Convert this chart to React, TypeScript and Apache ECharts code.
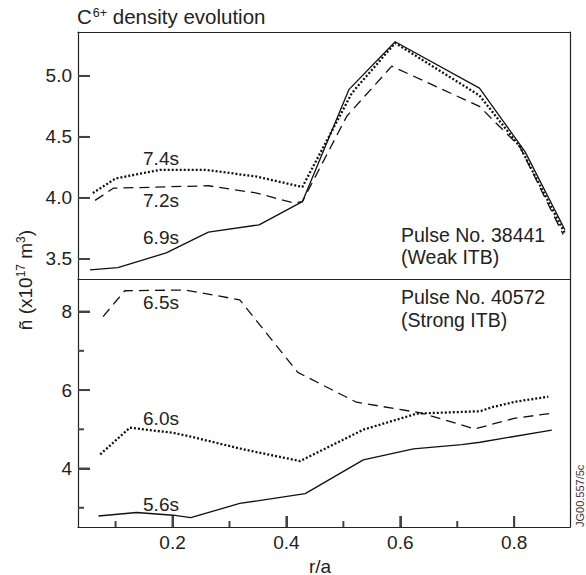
import React, { useEffect, useRef } from "react";
import * as echarts from "echarts";

// Top panel: Pulse No. 38441 (Weak ITB)
const t69X = [0.055, 0.104, 0.189, 0.263, 0.352, 0.428, 0.51, 0.591, 0.739, 0.819, 0.889];
const t69Y = [3.41, 3.43, 3.55, 3.72, 3.78, 3.97, 4.89, 5.28, 4.9, 4.38, 3.74];
const t72X = [0.064, 0.096, 0.263, 0.348, 0.412, 0.428, 0.506, 0.585, 0.739, 0.81, 0.886];
const t72Y = [3.98, 4.08, 4.1, 4.04, 3.96, 3.97, 4.67, 5.08, 4.75, 4.42, 3.7];
const t74X = [0.06, 0.1, 0.178, 0.26, 0.348, 0.428, 0.515, 0.591, 0.739, 0.81, 0.889];
const t74Y = [4.04, 4.16, 4.23, 4.23, 4.175, 4.09, 4.86, 5.27, 4.84, 4.42, 3.71];

// Bottom panel: Pulse No. 40572 (Strong ITB)
const b65X = [0.078, 0.116, 0.222, 0.318, 0.42, 0.523, 0.635, 0.731, 0.8, 0.862];
const b65Y = [7.87, 8.53, 8.55, 8.3, 6.45, 5.69, 5.42, 5.01, 5.28, 5.4];
const b60X = [0.073, 0.125, 0.201, 0.23, 0.324, 0.424, 0.535, 0.629, 0.74, 0.763, 0.805, 0.86];
const b60Y = [4.36, 5.04, 4.91, 4.82, 4.49, 4.19, 4.99, 5.4, 5.46, 5.57, 5.71, 5.83];
const b56X = [0.07, 0.137, 0.201, 0.232, 0.318, 0.433, 0.535, 0.623, 0.708, 0.74, 0.866];
const b56Y = [2.79, 2.88, 2.81, 2.75, 3.11, 3.36, 4.22, 4.5, 4.61, 4.67, 4.98];

const topTicks = [3.5, 4.0, 4.5, 5.0];
const botTicks = [4, 6, 8];
const botMinor = [3, 5, 7];
const xTicks = [0.2, 0.4, 0.6, 0.8];
const xMinor = [0.1, 0.3, 0.5, 0.7];

const X_MIN = 0.034;
const X_MAX = 0.898;
const T_MIN = 3.336;
const T_MAX = 5.36;
const B_MIN = 2.51;
const B_MAX = 8.83;

const pair = (xs: number[], ys: number[]) => xs.map((x, i) => [x, ys[i]]);

const FONT = "Liberation Sans, Arial, sans-serif";
const AX = "#444";
const LINE = "#111";

export default function App() {
  const ref = useRef<HTMLDivElement>(null);
  useEffect(() => {
    const chart = echarts.init(ref.current!, undefined, { renderer: "svg" });
    const solid = { color: LINE, width: 1.3, type: "solid" };
    const dashed = { color: LINE, width: 1.3, type: [10, 6] };
    const dotted = { color: LINE, width: 2.3, type: [2, 2] };
    const mk = (name: string, xi: number, yi: number, data: number[][], ls: any) => ({
      name,
      type: "line",
      xAxisIndex: xi,
      yAxisIndex: yi,
      data,
      symbol: "none",
      lineStyle: ls,
      silent: true,
    });
    const lbl = (text: string, x: number, y: number) => ({
      type: "text",
      x,
      y,
      style: { text, fontSize: 19, fontFamily: FONT, fill: "#222", align: "center", verticalAlign: "middle" },
    });
    // tick marks as thin rect symbols anchored on the axes
    const tickMarks = (gi: number, data: number[][], size: number[], offset: number[]) => ({
      type: "scatter",
      xAxisIndex: gi,
      yAxisIndex: gi,
      silent: true,
      clip: false,
      z: 10,
      data,
      symbol: "rect",
      symbolSize: size,
      symbolOffset: offset,
      itemStyle: { color: AX, opacity: 1 },
    });
    const axisLineOnly = { show: true, lineStyle: { color: "#222", width: 1.2 } };
    const hidden = { show: false };
    const tickOn = (vals: number[], len: number) => ({
      show: true,
      inside: true,
      length: len,
      customValues: vals,
      lineStyle: { color: AX, width: 2 },
    });
    const xAx = (gi: number, pos: string, extra: any) => ({
      type: "value",
      gridIndex: gi,
      position: pos,
      min: X_MIN,
      max: X_MAX,
      splitLine: hidden,
      axisTick: hidden,
      axisLabel: hidden,
      axisLine: axisLineOnly,
      ...extra,
    });
    const yAx = (gi: number, pos: string, min: number, max: number, extra: any) => ({
      type: "value",
      gridIndex: gi,
      position: pos,
      min,
      max,
      splitLine: hidden,
      axisTick: hidden,
      axisLabel: hidden,
      axisLine: axisLineOnly,
      ...extra,
    });
    chart.setOption({
      animation: false,
      textStyle: { fontFamily: FONT },
      grid: [
        { left: 78, top: 32, width: 492, height: 247 },
        { left: 78, top: 279, width: 492, height: 248 },
      ],
      xAxis: [
        xAx(0, "bottom", {}),
        xAx(1, "bottom", {
          axisTick: tickOn(xTicks, 11),
          axisLabel: {
            show: true,
            customValues: xTicks,
            margin: 6,
            fontSize: 19,
            color: "#222",
            fontFamily: FONT,
            formatter: (v: number) => v.toFixed(1),
          },
        }),
        xAx(0, "top", {}),
      ],
      yAxis: [
        yAx(0, "left", T_MIN, T_MAX, {
          axisTick: tickOn(topTicks, 12),
          axisLabel: {
            show: true,
            customValues: topTicks,
            margin: 6,
            fontSize: 19,
            color: "#222",
            fontFamily: FONT,
            formatter: (v: number) => v.toFixed(1),
          },
        }),
        yAx(1, "left", B_MIN, B_MAX, {
          axisTick: tickOn(botTicks, 12),
          axisLabel: {
            show: true,
            customValues: botTicks,
            margin: 6,
            fontSize: 19,
            color: "#222",
            fontFamily: FONT,
            formatter: (v: number) => String(v),
          },
        }),
        yAx(0, "right", T_MIN, T_MAX, {}),
        yAx(1, "right", B_MIN, B_MAX, {}),
      ],
      series: [
        mk("6.9s", 0, 0, pair(t69X, t69Y), solid),
        mk("7.2s", 0, 0, pair(t72X, t72Y), dashed),
        mk("7.4s", 0, 0, pair(t74X, t74Y), dotted),
        mk("6.5s", 1, 1, pair(b65X, b65Y), dashed),
        mk("6.0s", 1, 1, pair(b60X, b60Y), dotted),
        mk("5.6s", 1, 1, pair(b56X, b56Y), solid),
        tickMarks(0, topTicks.map((v) => [X_MIN, v]), [12, 2], [6, 0]),
        tickMarks(1, botTicks.map((v) => [X_MIN, v]), [12, 2], [6, 0]),
        tickMarks(1, botMinor.map((v) => [X_MIN, v]), [6, 2], [3, 0]),
        tickMarks(1, xTicks.map((v) => [v, B_MIN]), [2, 11], [0, -5.5]),
        tickMarks(1, xMinor.map((v) => [v, B_MIN]), [2, 6], [0, -3]),
      ],
      graphic: [
        {
          type: "text",
          x: 77,
          y: 16,
          style: {
            text: "{a|C}{s|6+}{a| density evolution}",
            fontFamily: FONT,
            verticalAlign: "middle",
            rich: {
              a: { fontSize: 20.5, fontFamily: FONT, fill: "#222" },
              s: { fontSize: 12.5, fontFamily: FONT, fill: "#222", padding: [0, 0, 7, 1] },
            },
          },
        },
        {
          type: "text",
          x: 25,
          y: 280,
          rotation: Math.PI / 2,
          style: {
            text: "{a|ñ (x10}{s|17}{a| m}{s|3}{a|)}",
            fontFamily: FONT,
            align: "center",
            verticalAlign: "middle",
            rich: {
              a: { fontSize: 19, fontFamily: FONT, fill: "#222" },
              s: { fontSize: 12, fontFamily: FONT, fill: "#222", padding: [0, 0, 8, 0] },
            },
          },
        },
        lbl("7.4s", 161, 158),
        lbl("7.2s", 161, 200),
        lbl("6.9s", 161, 237),
        lbl("6.5s", 161, 302),
        lbl("6.0s", 161, 418),
        lbl("5.6s", 161, 504),
        {
          type: "text",
          x: 401,
          y: 224,
          style: { text: "Pulse No. 38441\n(Weak ITB)", fontSize: 19.5, lineHeight: 22, fontFamily: FONT, fill: "#222" },
        },
        {
          type: "text",
          x: 401,
          y: 285,
          style: { text: "Pulse No. 40572\n(Strong ITB)", fontSize: 19.5, lineHeight: 23, fontFamily: FONT, fill: "#222" },
        },
        {
          type: "text",
          x: 320,
          y: 566,
          style: { text: "r/a", fontSize: 19, fontFamily: FONT, fill: "#222", align: "center", verticalAlign: "middle" },
        },
        {
          type: "text",
          x: 580,
          y: 527,
          rotation: Math.PI / 2,
          style: { text: "JG00.557/5c", fontSize: 11, fontFamily: FONT, fill: "#333", align: "left", verticalAlign: "middle" },
        },
      ],
    });
    return () => chart.dispose();
  }, []);
  return <div ref={ref} style={{ position: "absolute", left: 0, top: 0, width: 586, height: 575 }} />;
}
